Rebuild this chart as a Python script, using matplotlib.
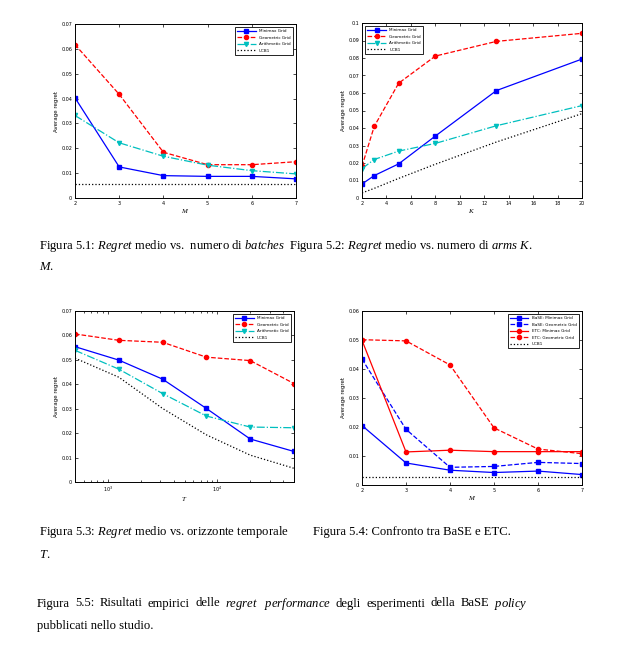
import matplotlib
matplotlib.use("Agg")
import matplotlib.pyplot as plt
from matplotlib.ticker import FuncFormatter

plt.rcParams['mathtext.fontset'] = 'custom'
plt.rcParams['mathtext.rm'] = 'Liberation Serif'
plt.rcParams['mathtext.it'] = 'Liberation Serif:italic'

# figura 5.1 - regret vs batches M
M = [2, 3, 4, 5, 6, 7]
m_minimax = [0.0403, 0.0125, 0.0090, 0.0087, 0.0087, 0.0077]
m_geom = [0.0617, 0.0417, 0.0184, 0.0134, 0.0134, 0.0146]
m_arith = [0.0332, 0.0222, 0.0168, 0.0132, 0.0110, 0.0097]
m_ucb = [0.0058, 0.0058, 0.0058, 0.0058, 0.0058, 0.0058]

# figura 5.2 - regret vs arms K
K = [2, 3, 5, 8, 13, 20]
k_minimax = [0.0080, 0.0128, 0.0195, 0.0354, 0.0614, 0.0794]
k_geom = [0.0182, 0.0409, 0.0656, 0.0811, 0.0895, 0.0941]
k_arith = [0.0168, 0.0220, 0.0268, 0.0312, 0.0413, 0.0528]
k_ucb = [0.0029, 0.0055, 0.0112, 0.0193, 0.0320, 0.0482]

# figura 5.3 - regret vs horizon T
T = [500, 1256, 3155, 7924, 19905, 50000]
t_minimax = [0.0554, 0.0499, 0.0421, 0.0301, 0.0176, 0.0125]
t_geom = [0.0606, 0.0580, 0.0572, 0.0511, 0.0497, 0.0403]
t_arith = [0.0539, 0.0462, 0.0362, 0.0270, 0.0225, 0.0222]
t_ucb = [0.0507, 0.0429, 0.0301, 0.0193, 0.0110, 0.0056]

# figura 5.4 - BaSE vs ETC
base_minimax = [0.0205, 0.0076, 0.0051, 0.0043, 0.0048, 0.0036]
base_geom = [0.0434, 0.0192, 0.0061, 0.0064, 0.0078, 0.0074]
etc_minimax = [0.0499, 0.0114, 0.0120, 0.0115, 0.0115, 0.0115]
etc_geom = [0.0501, 0.0497, 0.0414, 0.0197, 0.0124, 0.0108]
ucb_54 = [0.0029] * 6

grid_labels = ['Minimax Grid', 'Geometric Grid', 'Arithmetic Grid', 'UCB1']
cmp_labels = ['BaSE: Minimax Grid', 'BaSE: Geometric Grid', 'ETC: Minimax Grid',
              'ETC: Geometric Grid', 'UCB1']

W, H = 637, 645
fig = plt.figure(figsize=(W / 100, H / 100), dpi=100)


def add_ax(x0, y0, x1, y1):
    return fig.add_axes([x0 / W, 1 - y1 / H, (x1 - x0) / W, (y1 - y0) / H])


def style(ax, xlabel, ymax, yticks):
    ax.set_ylim(0, ymax)
    ax.set_yticks(yticks)
    ax.yaxis.set_major_formatter(FuncFormatter(lambda v, p: '%g' % round(v, 4)))
    ax.tick_params(which='both', direction='in', top=True, right=True,
                   labelsize=3.5, length=2.5, width=0.5, pad=2)
    ax.tick_params(which='minor', length=1.5)
    for s in ax.spines.values():
        s.set_linewidth(0.7)
    ax.set_xlabel(xlabel, fontsize=5, labelpad=1)
    ax.set_ylabel('Average regret', fontsize=4, labelpad=2)


def legend(ax, loc):
    lg = ax.legend(loc=loc, fontsize=3.0, fancybox=False, framealpha=1,
                   edgecolor='black', handlelength=4.5, borderpad=0.5,
                   labelspacing=0.6, borderaxespad=0.8)
    lg.get_frame().set_linewidth(0.6)


ms = 3
lw = 0.9
yt7 = [0, 0.01, 0.02, 0.03, 0.04, 0.05, 0.06, 0.07]

ax1 = add_ax(75, 24, 296, 198)
ax1.plot(M, m_minimax, 'b-s', ms=ms, lw=lw, label=grid_labels[0])
ax1.plot(M, m_geom, 'r--o', ms=ms, lw=lw, label=grid_labels[1])
ax1.plot(M, m_arith, 'c-.v', ms=ms, lw=lw, label=grid_labels[2])
ax1.plot(M, m_ucb, 'k:', lw=lw, label=grid_labels[3])
ax1.set_xlim(2, 7)
style(ax1, '$M$', 0.07, yt7)
legend(ax1, 'upper right')

ax2 = add_ax(362, 23, 582, 198)
ax2.plot(K, k_minimax, 'b-s', ms=ms, lw=lw, label=grid_labels[0])
ax2.plot(K, k_geom, 'r--o', ms=ms, lw=lw, label=grid_labels[1])
ax2.plot(K, k_arith, 'c-.v', ms=ms, lw=lw, label=grid_labels[2])
ax2.plot(K, k_ucb, 'k:', lw=lw, label=grid_labels[3])
ax2.set_xlim(2, 20)
ax2.set_xticks(range(2, 21, 2))
style(ax2, '$K$', 0.1, [i / 100 for i in range(11)])
legend(ax2, 'upper left')

ax3 = add_ax(75, 311, 294, 482)
ax3.semilogx(T, t_minimax, 'b-s', ms=ms, lw=lw, label=grid_labels[0])
ax3.semilogx(T, t_geom, 'r--o', ms=ms, lw=lw, label=grid_labels[1])
ax3.semilogx(T, t_arith, 'c-.v', ms=ms, lw=lw, label=grid_labels[2])
ax3.semilogx(T, t_ucb, 'k:', lw=lw, label=grid_labels[3])
ax3.set_xlim(500, 50000)
style(ax3, '$T$', 0.07, yt7)
legend(ax3, 'upper right')

ax4 = add_ax(362, 311, 582, 485)
ax4.plot(M, base_minimax, 'b-s', ms=ms, lw=lw, label=cmp_labels[0])
ax4.plot(M, base_geom, 'b--s', ms=ms, lw=lw, label=cmp_labels[1])
ax4.plot(M, etc_minimax, 'r-o', ms=ms, lw=lw, label=cmp_labels[2])
ax4.plot(M, etc_geom, 'r--o', ms=ms, lw=lw, label=cmp_labels[3])
ax4.plot(M, ucb_54, 'k:', lw=lw, label=cmp_labels[4])
ax4.set_xlim(2, 7)
style(ax4, '$M$', 0.06, [0, 0.01, 0.02, 0.03, 0.04, 0.05, 0.06])
legend(ax4, 'upper right')

# captions (y is the text centre line, drawn on the baseline)
cap = dict(fontsize=9.1, family='Liberation Serif', va='baseline', ha='left')


def put(x, y, s):
    return fig.text(x / W, 1 - (y + 3.5) / H, s, **cap)


put(39, 245, r'Figura 5.1: $\mathit{Regret}$ medio vs.  numero di $\mathit{batches}$')
put(289, 245, r'Figura 5.2: $\mathit{Regret}$ medio vs. numero di $\mathit{arms}$ $\mathit{K}$.')
put(39, 267, r'$\mathit{M}$.')
put(39, 532, r'Figura 5.3: $\mathit{Regret}$ medio vs. orizzonte temporale')
put(39, 555, r'$\mathit{T}$.')
put(313, 532, 'Figura 5.4: Confronto tra BaSE e ETC.')
put(37, 626, 'pubblicati nello studio.')

# justified line of figura 5.5
words = ['Figura', '5.5:', 'Risultati', 'empirici', 'delle', r'$\mathit{regret}$',
         r'$\mathit{performance}$', 'degli', 'esperimenti', 'della', 'BaSE',
         r'$\mathit{policy}$']
x_left, x_right = 37, 528
renderer = fig.canvas.get_renderer()
texts = [put(0, 603, w) for w in words]
widths = [t.get_window_extent(renderer).width for t in texts]
gap = (x_right - x_left - sum(widths)) / (len(words) - 1)
x = x_left
for t, w in zip(texts, widths):
    t.set_x(x / W)
    x += w + gap

fig.savefig('out.png', dpi=100)
